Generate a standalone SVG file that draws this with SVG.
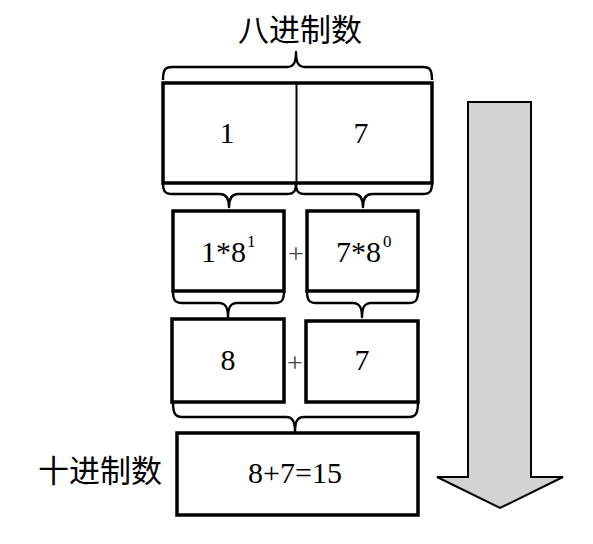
<svg xmlns="http://www.w3.org/2000/svg" width="593" height="544" viewBox="0 0 593 544">
<style>
.box{fill:#fff;stroke:#000;stroke-width:3.5}
.brace{fill:none;stroke:#000;stroke-width:2.4;stroke-linejoin:round}
.num{font-size:30px;fill:#000}
.sup{font-size:17px;fill:#000}
.plus{font-size:28px;fill:#444}
.cjk{font-size:31px;fill:#000}
</style>
<rect width="593" height="544" fill="#fff"/>
<g id="title" font-family="Noto Sans CJK SC, Noto Sans CJK JP, sans-serif"><text class="cjk" x="300" y="41" text-anchor="middle">八进制数</text></g>
<g id="label-decimal" font-family="Noto Sans CJK SC, Noto Sans CJK JP, sans-serif"><text class="cjk" x="38" y="482">十进制数</text></g>
<g id="connectors">
<path class="brace" d="M163,80 C163,70 165,67 172,67 L287,67 C294,67 296,62 296,52 C296,62 298,67 305,67 L423,67 C430,67 432,70 432,80"/>
<path class="brace" d="M163,183 C163,191 165,194 172,194 L220,194 C227,194 229,199 229,207 C229,199 231,194 238,194 L287,194 C294,194 296,191 296,183"/>
<path class="brace" d="M296,183 C296,191 298,194 305,194 L354,194 C361,194 363,199 363,207 C363,199 365,194 372,194 L423,194 C430,194 432,191 432,183"/>
<path class="brace" d="M173,291 C173,300 175,303 182,303 L219,303 C226,303 228,308 228,317 C228,308 230,303 237,303 L275,303 C282,303 284,300 284,291"/>
<path class="brace" d="M307,291 C307,300 309,303 316,303 L353,303 C360,303 362,308 362,317 C362,308 364,303 371,303 L409,303 C416,303 418,300 418,291"/>
<path class="brace" d="M173,402 C173,413 175,417 182,417 L286,417 C293,417 295,422 295,432 C295,422 297,417 304,417 L409,417 C416,417 418,413 418,402"/>
</g>
<g font-family="Liberation Serif, Times New Roman, serif">
<g id="octal">
<rect class="box" x="163" y="83" width="269" height="100"/>
<line x1="296.5" y1="83" x2="296.5" y2="183" stroke="#000" stroke-width="2"/>
<text class="num" x="227" y="143" text-anchor="middle">1</text>
<text class="num" x="361" y="143" text-anchor="middle">7</text>
</g>
<g id="term1">
<rect class="box" x="173" y="211" width="111" height="80"/>
<text class="num" x="201" y="262">1*8</text>
<text class="sup" x="247" y="247">1</text>
</g>
<g id="plus1"><text class="plus" x="296" y="263" text-anchor="middle">+</text></g>
<g id="term2">
<rect class="box" x="307" y="211" width="111" height="80"/>
<text class="num" x="336" y="262">7*8</text>
<text class="sup" x="383" y="247">0</text>
</g>
<g id="value1">
<rect class="box" x="172" y="319" width="112" height="83"/>
<text class="num" x="228" y="370" text-anchor="middle">8</text>
</g>
<g id="plus2"><text class="plus" x="295" y="372" text-anchor="middle">+</text></g>
<g id="value2">
<rect class="box" x="306" y="321" width="112" height="81"/>
<text class="num" x="362" y="370" text-anchor="middle">7</text>
</g>
<g id="decimal">
<rect class="box" x="177" y="433" width="241" height="82"/>
<text class="num" x="295" y="483" text-anchor="middle">8+7=15</text>
</g>
</g>
<g id="arrow">
<polygon points="468,102 531,102 531,477 563,477 500,508 437,477 468,477" fill="#d3d3d3" stroke="#000" stroke-width="2" stroke-linejoin="miter"/>
</g>
</svg>
